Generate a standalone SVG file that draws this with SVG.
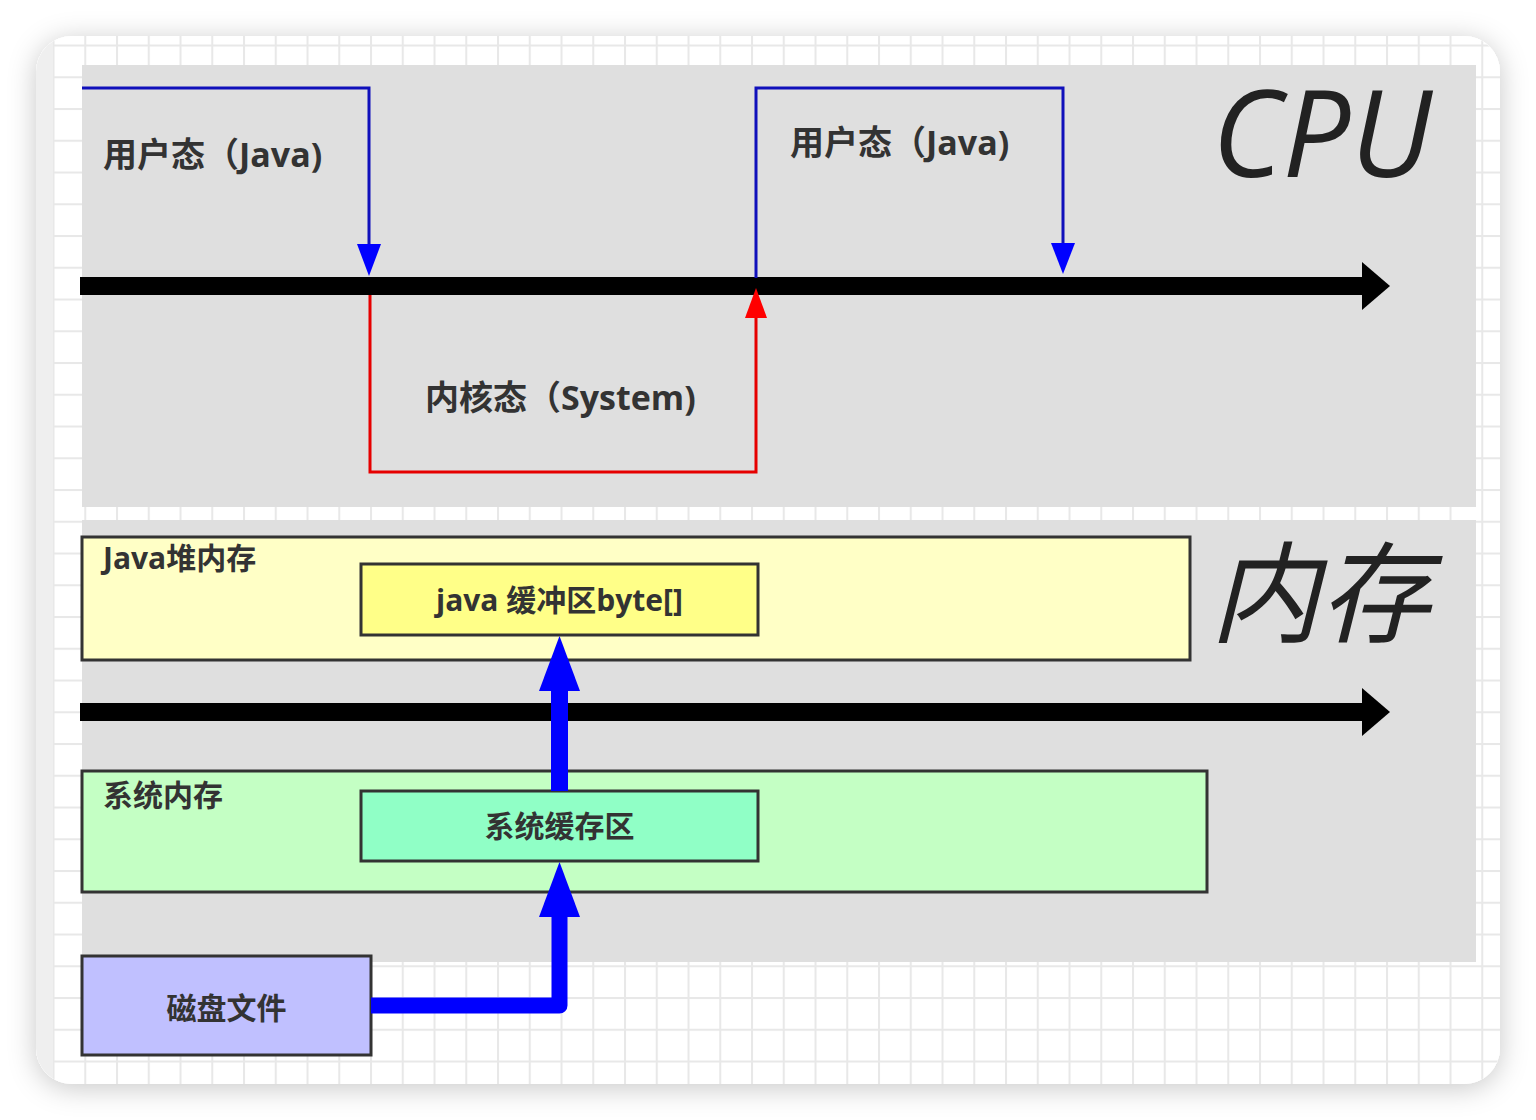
<svg xmlns="http://www.w3.org/2000/svg" width="1536" height="1120" viewBox="0 0 1536 1120">
<defs>
<style>
.lbl{font-family:"Open Sans","Noto Sans CJK SC",sans-serif;font-weight:bold;fill:#333}
.cpu-lbl{font-size:34px}
.mem-lbl{font-size:30px}
.big{font-style:italic;font-weight:normal;fill:#222}
.panel{fill:#dfdfdf}
.box{stroke:#333;stroke-width:3}
.axis{stroke:#000;stroke-width:18;fill:none}
.thin-blue{stroke:#1010bb;stroke-width:3;fill:none}
.thin-red{stroke:#e60000;stroke-width:3;fill:none}
.thick-blue{stroke:#0000ff;stroke-width:17;fill:none;stroke-linejoin:round}
.head-black{fill:#000}
.head-blue{fill:#0000ff}
.head-red{fill:#ff0000}
</style>
<pattern id="grid" patternUnits="userSpaceOnUse" x="52.5" y="44.5" width="31.75" height="31.75">
<rect width="31.75" height="31.75" fill="#ffffff"/>
<rect x="0" y="0" width="2" height="31.75" fill="#e8e8e8"/>
<rect x="0" y="0" width="31.75" height="2" fill="#e8e8e8"/>
</pattern>
<filter id="shadow" x="-10%" y="-10%" width="120%" height="120%">
<feDropShadow dx="0" dy="4" stdDeviation="14" flood-color="#000" flood-opacity="0.22"/>
</filter>
<clipPath id="cardClip"><rect x="36" y="36" width="1464" height="1048" rx="36"/></clipPath>
</defs>

<rect width="1536" height="1120" fill="#ffffff"/>

<g id="card">
<rect x="36" y="36" width="1464" height="1048" rx="36" fill="#ffffff" filter="url(#shadow)"/>
<g clip-path="url(#cardClip)">
<rect x="36" y="36" width="1464" height="1048" fill="url(#grid)"/>
<rect x="36" y="36" width="17" height="1048" fill="#efefef"/>
</g>
</g>

<g id="cpu-panel">
<rect class="panel" x="82" y="65" width="1394" height="442"/>
<text class="big" x="1212" y="177" font-family="'Open Sans','DejaVu Sans',sans-serif" font-size="120">CPU</text>
</g>

<g id="memory-panel">
<rect class="panel" x="82" y="520" width="1394" height="442"/>
<text class="big" x="1210" y="634" font-family="'Noto Sans CJK SC',sans-serif" font-size="110">内存</text>
</g>

<g id="user-mode-1">
<text class="lbl cpu-lbl" x="103" y="167">用户态（Java)</text>
</g>
<g id="kernel-mode">
<text class="lbl cpu-lbl" x="425" y="410">内核态（System)</text>
</g>
<g id="user-mode-2">
<text class="lbl cpu-lbl" x="790" y="155">用户态（Java)</text>
</g>

<g id="java-heap">
<rect class="box" x="82" y="537" width="1108" height="123" fill="#ffffc6"/>
<text class="lbl mem-lbl" x="103" y="569">Java堆内存</text>
</g>
<g id="java-buffer">
<rect class="box" x="361" y="564" width="397" height="71" fill="#ffff88"/>
<text class="lbl mem-lbl" x="559.5" y="611" text-anchor="middle">java 缓冲区byte[]</text>
</g>
<g id="system-memory">
<rect class="box" x="82" y="771" width="1125" height="121" fill="#c4ffc4"/>
<text class="lbl mem-lbl" x="103" y="806">系统内存</text>
</g>
<g id="system-cache">
<rect class="box" x="361" y="791" width="397" height="70" fill="#90ffc6"/>
<text class="lbl mem-lbl" x="559.5" y="837" text-anchor="middle">系统缓存区</text>
</g>
<g id="disk-file">
<rect class="box" x="82" y="956" width="289" height="99" fill="#c0c0ff"/>
<text class="lbl mem-lbl" x="226.5" y="1019" text-anchor="middle">磁盘文件</text>
</g>

<g id="connectors">
<path class="axis" d="M80,286 H1366"/>
<polygon class="head-black" points="1362,262 1390,286 1362,310"/>
<path class="axis" d="M80,712 H1366"/>
<polygon class="head-black" points="1362,688 1390,712 1362,736"/>

<path class="thin-blue" d="M82,88 H369 V246"/>
<polygon class="head-blue" points="357,244 381,244 369,276"/>

<path class="thin-red" d="M370,295 V472 H756 V316"/>
<polygon class="head-red" points="745,318 767,318 756,288"/>

<path class="thin-blue" d="M756,278 V88 H1063 V246"/>
<polygon class="head-blue" points="1051,243 1075,243 1063,274"/>

<path class="thick-blue" d="M559.5,791 V688"/>
<polygon class="head-blue" points="539,691 580,691 559.5,636"/>

<path class="thick-blue" d="M371,1005.5 H559.5 V914" style="stroke-width:16"/>
<polygon class="head-blue" points="539,917 580,917 559.5,862"/>
</g>
</svg>
